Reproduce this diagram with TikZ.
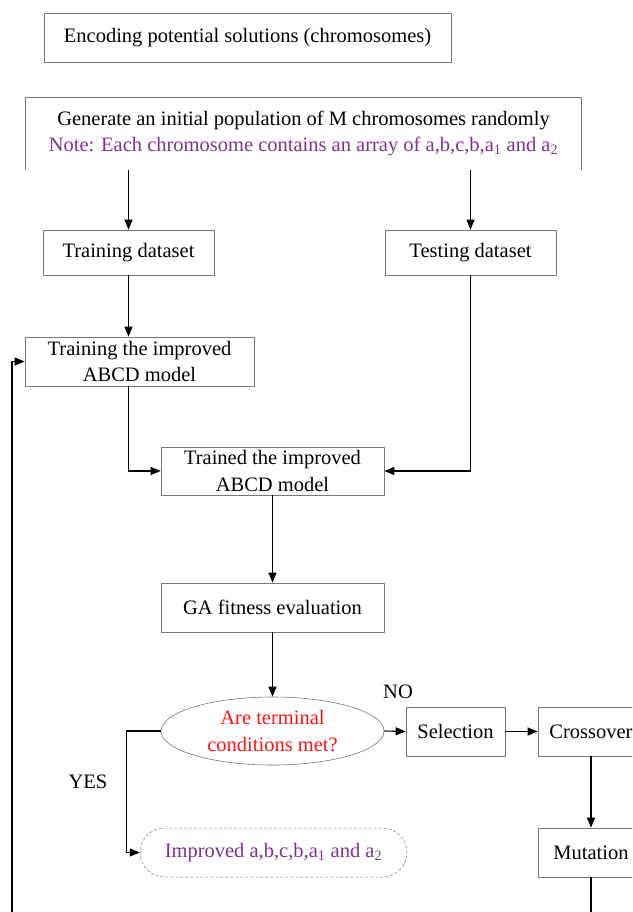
\documentclass[tikz,border=0pt]{standalone}
\usepackage{fontspec}
\setmainfont{Liberation Serif}
\usetikzlibrary{arrows.meta,shapes.geometric,shapes.misc}
\definecolor{notepurple}{RGB}{125,50,140}
\definecolor{condred}{RGB}{250,20,20}
\definecolor{boxgray}{RGB}{120,120,120}

\begin{document}
\begin{tikzpicture}[x=1pt,y=-1pt,>={Triangle[length=10pt,width=8pt]},
		box/.style={draw=boxgray,line width=0.7pt,minimum height=49pt,align=center,inner sep=0pt},
		link/.style={->,line width=1.1pt},
		font=\fontsize{20.5}{26.5}\selectfont]
		\useasboundingbox (0,0) rectangle (632,912);
		\clip (0,0) rectangle (632,912);
		\node[box,minimum width=407pt] (enc) at (247.5,37.5) {Encoding potential solutions (chromosomes)};
		\node[box,draw=none,minimum width=555pt,minimum height=72pt] (gen) at (303.5,133.5) {Generate an initial population of M chromosomes randomly\\ \textcolor{notepurple}{Note: Each chromosome contains an array of a,b,c,b,a\textsubscript{1} and a\textsubscript{2}}};
		\draw[boxgray,line width=0.7pt] (gen.south west) -- (gen.north west) -- (gen.north east) -- (gen.south east);
		\node[box,minimum width=171pt,minimum height=45pt] (trd) at (128.5,252.5) {Training dataset};
		\node[box,minimum width=171pt,minimum height=45pt] (tsd) at (470.5,252.5) {Testing dataset};
		\node[box,minimum width=229pt] (trm) at (139.5,361.5) {Training the improved\\ABCD model};
		\node[box,minimum width=223pt,minimum height=48pt] (tdm) at (272.5,471) {Trained the improved\\ABCD model};
		\node[box,minimum width=223pt] (ga) at (272.5,607.5) {GA fitness evaluation};
		\node[ellipse,draw=boxgray,line width=0.6pt,inner sep=0pt,align=center,minimum width=223pt,minimum height=68pt,text=condred] (cond) at (272.5,731) {Are terminal\\conditions met?};
		\node[box,minimum width=99pt] (sel) at (455.5,731.5) {Selection};
		\node[box,minimum width=106pt] (cro) at (591,731.5) {Crossover};
		\node[box,minimum width=106pt] (mut) at (591,852.5) {Mutation};
		\node[rounded rectangle,draw=boxgray,densely dashed,line width=0.5pt,inner sep=0pt,minimum width=267pt,minimum height=49pt,text=notepurple] (impr) at (273.5,852.5) {Improved a,b,c,b,a\textsubscript{1} and a\textsubscript{2}};
		\node (no) at (398,692) {NO};
		\node (yes) at (88,782) {YES};
		% connectors
		\draw[link] (gen.south -| trd.north) -- (trd.north);
		\draw[link] (gen.south -| tsd.north) -- (tsd.north);
		\draw[link] (trd.south) -- (trd.south |- trm.north);
		\draw[link] (trd.south |- trm.south) |- (tdm.west);
		\draw[link] (tsd.south) |- (tdm.east);
		\draw[link] (tdm.south) -- (ga.north);
		\draw[link] (ga.south) -- (cond.north);
		\draw[link] (cond.east) -- (sel.west);
		\draw[link] (sel.east) -- (cro.west);
		\draw[link] (cro.south) -- (mut.north);
		\draw[link] (cond.west) -- ++(-34,0) |- (impr.west);
		\coordinate (mutend) at ([yshift=-60pt]mut.south);
		\draw[line width=1.1pt] (mut.south) -- (mutend);
		\coordinate (loopend) at (12,930);
		\draw[link] (loopend) |- (trm.west);
	\end{tikzpicture}
\end{document}
